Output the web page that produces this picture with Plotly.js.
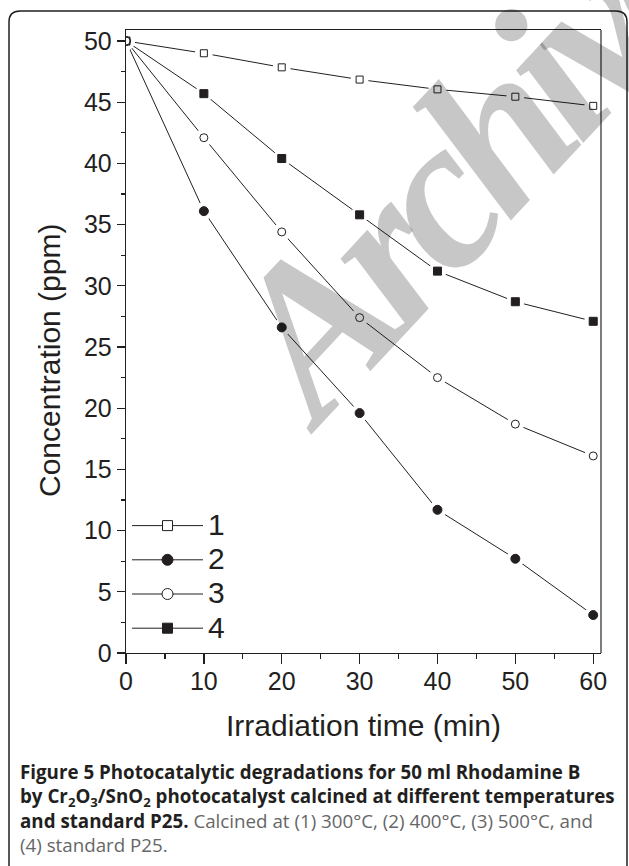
<!DOCTYPE html>
<html><head><meta charset="utf-8">
<script src="https://cdn.plot.ly/plotly-3.0.1.min.js"></script>
<style>html,body{margin:0;padding:0;background:#fff;}#chart{width:629px;height:866px;}</style>
</head><body><div id="chart"></div>
<script>
// ---- data ----
const time = [0, 10, 20, 30, 40, 50, 60];
const series1 = [50, 49.0, 47.85, 46.85, 46.05, 45.45, 44.7];
const series2 = [50, 36.1, 26.6, 19.6, 11.7, 7.7, 3.1];
const series3 = [50, 42.1, 34.4, 27.4, 22.5, 18.7, 16.1];
const series4 = [50, 45.7, 40.4, 35.8, 31.2, 28.7, 27.1];
const seriesNames = ['1', '2', '3', '4'];
const xTitle = 'Irradiation time (min)';
const yTitle = 'Concentration (ppm)';
const watermark = 'Archive';
const captionBold1 = 'Figure 5 Photocatalytic degradations for 50 ml Rhodamine B';
const captionBold2 = 'by Cr<sub>2</sub>O<sub>3</sub>/SnO<sub>2</sub> photocatalyst calcined at different temperatures';
const captionBold3 = 'and standard P25.';
const captionPlain3 = 'Calcined at (1) 300°C, (2) 400°C, (3) 500°C, and';
const captionPlain4 = '(4) standard P25.';

// ---- styles ----
const INK = '#231f20';
const FONT = 'Liberation Sans, Arial, Helvetica, sans-serif';
const allSeries = [series1, series2, series3, series4];
const styles = [
  {symbol: 'square', size: 7, fill: '#ffffff', lsize: 10},
  {symbol: 'circle', size: 9, fill: INK, lsize: 11},
  {symbol: 'circle', size: 8, fill: '#ffffff', lsize: 11},
  {symbol: 'square', size: 8, fill: INK, lsize: 10}
];
const M = {l: 126, r: 28, t: 30, b: 213};
const W = 629 - M.l - M.r, H = 866 - M.t - M.b;
const px = v => (v - M.l) / W;
const py = v => (866 - M.b - v) / H;

const traces = [];
// connecting lines
allSeries.forEach(s => traces.push({x: time, y: s, type: 'scatter', mode: 'lines',
  line: {color: INK, width: 1}, showlegend: false, hoverinfo: 'skip'}));
// white halos producing the gap between line and marker
allSeries.forEach(s => traces.push({x: time, y: s, type: 'scatter', mode: 'markers',
  marker: {symbol: 'circle', size: 18, color: '#ffffff', line: {width: 0}}, showlegend: false, hoverinfo: 'skip'}));
// markers (series 3 drawn last so the shared start point shows an open circle)
[0, 1, 3, 2].forEach(i => traces.push({x: time, y: allSeries[i], type: 'scatter', mode: 'markers',
  marker: {symbol: styles[i].symbol, size: styles[i].size, color: styles[i].fill, line: {color: INK, width: 1}},
  showlegend: false, name: seriesNames[i]}));
// legend entries
seriesNames.forEach((n, i) => traces.push({x: [null], y: [null], type: 'scatter', mode: 'lines+markers',
  name: '<span style="font-size:30px">' + n + '</span>',
  line: {color: INK, width: 1},
  marker: {symbol: styles[i].symbol, size: styles[i].lsize, color: styles[i].fill, line: {color: INK, width: 1}}}));

const r = 11; // corner radius of the figure frame
const framePath = 'M' + px(9) + ',' + py(866) + ' L' + px(9) + ',' + py(11 + r) +
  ' Q' + px(9) + ',' + py(11) + ' ' + px(9 + r) + ',' + py(11) +
  ' L' + px(627 - r) + ',' + py(11) +
  ' Q' + px(627) + ',' + py(11) + ' ' + px(627) + ',' + py(11 + r) +
  ' L' + px(627) + ',' + py(866);

const GREY = '#666666';
const layout = {
  width: 629, height: 866,
  margin: M,
  paper_bgcolor: '#ffffff', plot_bgcolor: '#ffffff',
  font: {family: FONT, color: INK},
  showlegend: true,
  xaxis: {
    range: [0, 61], tick0: 0, dtick: 10, ticks: 'outside', ticklen: 10, tickwidth: 1.3, tickcolor: INK,
    showline: true, linecolor: INK, linewidth: 1.3, mirror: true, showgrid: false, zeroline: false,
    tickfont: {family: FONT, size: 25, color: INK}, ticklabelstandoff: -4,
    minor: {dtick: 5, ticks: 'outside', ticklen: 5, tickwidth: 1.3, tickcolor: INK, showgrid: false},
    title: {text: xTitle, font: {family: FONT, size: 30, color: INK}, standoff: 20}
  },
  yaxis: {
    range: [0, 50.9], tick0: 0, dtick: 5, ticks: 'outside', ticklen: 8, tickwidth: 1.3, tickcolor: INK,
    showline: true, linecolor: INK, linewidth: 1.3, showgrid: false, zeroline: false,
    tickfont: {family: FONT, size: 25, color: INK},
    minor: {dtick: 2.5, ticks: 'outside', ticklen: 4, tickwidth: 1.3, tickcolor: INK, showgrid: false}
  },
  legend: {x: px(127), y: py(503.5), xanchor: 'left', yanchor: 'top', bgcolor: 'rgba(0,0,0,0)',
    borderwidth: 0, font: {family: FONT, size: 24, color: INK}, itemwidth: 71, tracegroupgap: 0},
  shapes: [
    {type: 'line', xref: 'paper', yref: 'paper', x0: 1, x1: 1, y0: 0, y1: 1, line: {color: '#7d7d7d', width: 2}},
    {type: 'path', xref: 'paper', yref: 'paper', path: framePath, line: {color: INK, width: 1.5}}
  ],
  annotations: [
    {text: '<span style="letter-spacing:-15px"><i><b>' + watermark + '</b></i></span>', xref: 'paper', yref: 'paper',
      x: px(466), y: py(163), xanchor: 'center', yanchor: 'middle', showarrow: false, textangle: -47,
      font: {family: 'Liberation Serif, Times New Roman, serif', size: 215, color: 'rgba(0,0,0,0.22)'}},
    {text: yTitle, xref: 'paper', yref: 'paper', x: px(50), y: py(361), xanchor: 'center', yanchor: 'middle',
      showarrow: false, textangle: -90, font: {family: FONT, size: 30, color: INK}},
    {text: '<b>' + captionBold1 + '</b><br><b>' + captionBold2 + '</b><br><b>' + captionBold3 + '</b> <span style="color:' + GREY + '">' +
      captionPlain3 + '</span><br><span style="color:' + GREY + '">' + captionPlain4 + '</span>',
      xref: 'paper', yref: 'paper', x: px(18), y: py(757), xanchor: 'left', yanchor: 'top', align: 'left',
      showarrow: false, font: {family: 'Open Sans, Noto Sans, sans-serif', size: 18.75, color: INK}}
  ]
};
Plotly.newPlot('chart', traces, layout, {staticPlot: true});
</script></body></html>
